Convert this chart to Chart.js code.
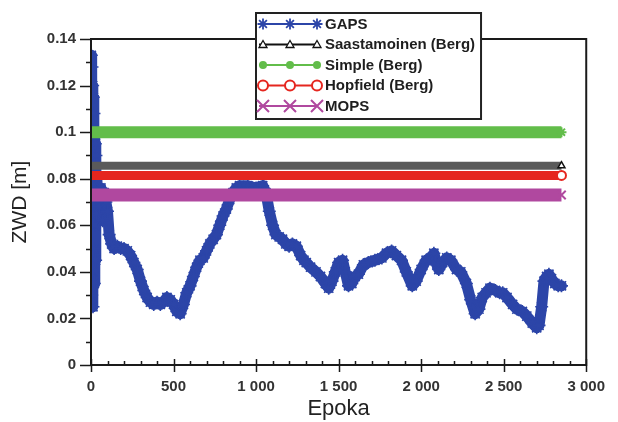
<!DOCTYPE html>
<html>
<head>
<meta charset="utf-8">
<script src="https://cdn.jsdelivr.net/npm/chart.js@4/dist/chart.umd.min.js"></script>
<style>
  body { margin: 0; background: #fff; }
  canvas { display: block; }
</style>
</head>
<body>
<canvas id="zwd-chart" width="618" height="422"></canvas>
<script>
// series labels (legend order)
var seriesNames = ["GAPS", "Saastamoinen (Berg)", "Simple (Berg)", "Hopfield (Berg)", "MOPS"];

// GAPS estimate (epoch, ZWD in m)
var gapsEpoch = [0, 2, 4, 6, 8, 10, 12, 14, 16, 18, 20, 22, 24, 26, 28, 30, 32, 35,
  40, 50, 60, 70, 80, 90, 100, 110, 125, 140, 160, 180, 200, 220, 240, 260, 280, 300,
  320, 340, 360, 380, 400, 420, 440, 460, 480, 500, 520, 540, 560, 580, 600, 620, 640,
  660, 680, 700, 720, 740, 760, 780, 800, 820, 840, 860, 880, 900, 950, 1000, 1040,
  1060, 1080, 1100, 1120, 1140, 1160, 1180, 1200, 1220, 1244, 1270, 1290, 1304, 1330,
  1363, 1390, 1420, 1440, 1460, 1480, 1500, 1524, 1540, 1560, 1580, 1600, 1620, 1650,
  1680, 1720, 1762, 1790, 1821, 1850, 1881, 1910, 1946, 1970, 2000, 2030, 2060, 2077,
  2095, 2107, 2130, 2155, 2180, 2214, 2240, 2274, 2300, 2327, 2350, 2370, 2393, 2417,
  2450, 2476, 2494, 2520, 2554, 2580, 2613, 2640, 2673, 2700, 2714, 2730, 2744, 2760,
  2774, 2790, 2810, 2830, 2850];
var gapsZwd = [0.027, 0.133, 0.030, 0.128, 0.040, 0.120, 0.025, 0.115, 0.050, 0.108,
  0.035, 0.100, 0.060, 0.095, 0.045, 0.090, 0.065, 0.080,
  0.075, 0.068, 0.076, 0.062, 0.074, 0.070, 0.066, 0.056, 0.052, 0.050, 0.051, 0.050,
  0.050, 0.049, 0.047, 0.044, 0.041, 0.036, 0.032, 0.029, 0.027, 0.026, 0.027, 0.026,
  0.027, 0.029, 0.028, 0.026, 0.023, 0.022, 0.026, 0.031, 0.034, 0.038, 0.042, 0.045,
  0.046, 0.049, 0.052, 0.054, 0.056, 0.060, 0.064, 0.067, 0.071, 0.074, 0.076, 0.077,
  0.077, 0.076, 0.077, 0.074, 0.066, 0.060, 0.056, 0.055, 0.054, 0.052, 0.051, 0.052,
  0.051, 0.047, 0.045, 0.044, 0.042, 0.040, 0.038, 0.035, 0.033, 0.036, 0.040, 0.044,
  0.045, 0.040, 0.034, 0.035, 0.038, 0.039, 0.043, 0.044, 0.045, 0.046, 0.048, 0.049,
  0.047, 0.045, 0.040, 0.034, 0.036, 0.041, 0.045, 0.046, 0.048, 0.043, 0.041, 0.044,
  0.046, 0.045, 0.041, 0.040, 0.035, 0.028, 0.022, 0.024, 0.029, 0.031, 0.033, 0.032,
  0.031, 0.031, 0.029, 0.026, 0.024, 0.023, 0.021, 0.018, 0.016, 0.017, 0.025, 0.036,
  0.038, 0.039, 0.037, 0.035, 0.034, 0.034];

// model values (constant over the session)
var lineEpochs = [0, 2850];
var saastamoinenZwd = [0.0856, 0.0856];
var simpleZwd = [0.1000, 0.1000];
var hopfieldZwd = [0.0814, 0.0814];
var mopsZwd = [0.0730, 0.0730];

var xTickLabels = ["0", "500", "1 000", "1 500", "2 000", "2 500", "3 000"];
var yTickLabels = ["0", "0.02", "0.04", "0.06", "0.08", "0.1", "0.12", "0.14"];

function pairs(xs, ys) {
  return xs.map(function(x, i) { return { x: x, y: ys[i] }; });
}

var blue = "#2c45a8", grey = "#5a5a5a", green = "#62bd4a", red = "#e5261f", purple = "#b0489f";
var fontFamily = "'Liberation Sans', Arial, sans-serif";

// marker drawing for the legend
function drawMarker(ctx, style, x, y, color) {
  ctx.save();
  ctx.strokeStyle = color;
  ctx.fillStyle = color;
  ctx.lineWidth = 1.8;
  ctx.beginPath();
  if (style === "star") {
    for (var a = 0; a < 4; a++) {
      var ang = a * Math.PI / 4;
      ctx.moveTo(x - 5.5 * Math.cos(ang), y - 5.5 * Math.sin(ang));
      ctx.lineTo(x + 5.5 * Math.cos(ang), y + 5.5 * Math.sin(ang));
    }
    ctx.stroke();
  } else if (style === "triangle") {
    ctx.moveTo(x, y - 4);
    ctx.lineTo(x + 4, y + 3);
    ctx.lineTo(x - 4, y + 3);
    ctx.closePath();
    ctx.fillStyle = "#fff";
    ctx.fill();
    ctx.lineWidth = 1.3;
    ctx.stroke();
  } else if (style === "dot") {
    ctx.arc(x, y, 4, 0, Math.PI * 2);
    ctx.fill();
  } else if (style === "circle") {
    ctx.arc(x, y, 5, 0, Math.PI * 2);
    ctx.fillStyle = "#fff";
    ctx.fill();
    ctx.lineWidth = 2;
    ctx.stroke();
  } else if (style === "cross") {
    ctx.moveTo(x - 6, y - 6); ctx.lineTo(x + 6, y + 6);
    ctx.moveTo(x + 6, y - 6); ctx.lineTo(x - 6, y + 6);
    ctx.lineWidth = 2;
    ctx.stroke();
  }
  ctx.restore();
}

var legendItems = [
  { color: blue, marker: "star" },
  { color: "#111", marker: "triangle" },
  { color: green, marker: "dot" },
  { color: red, marker: "circle" },
  { color: purple, marker: "cross" }
];

var framePlugin = {
  id: "frame",
  afterDatasetsDraw: function(chart) {
    var ctx = chart.ctx, a = chart.chartArea;
    var xs = chart.scales.x, ys = chart.scales.y;
    ctx.save();
    ctx.strokeStyle = "#1a1a1a";
    ctx.lineWidth = 2;
    ctx.strokeRect(a.left, a.top, a.right - a.left, a.bottom - a.top);
    ctx.lineWidth = 1.5;
    ctx.beginPath();
    for (var v = 0; v <= 3000; v += 100) {
      var px = Math.round(xs.getPixelForValue(v)) + 0.5;
      if (v % 500 === 0) {
        ctx.moveTo(px, a.bottom - 6); ctx.lineTo(px, a.bottom + 7);
      } else {
        ctx.moveTo(px, a.bottom - 4); ctx.lineTo(px, a.bottom);
      }
    }
    for (var k = 0; k <= 14; k++) {
      var py = Math.round(ys.getPixelForValue(k / 100)) + 0.5;
      if (k % 2 === 0) {
        ctx.moveTo(a.left - 11, py); ctx.lineTo(a.left, py);
      } else {
        ctx.moveTo(a.left - 5, py); ctx.lineTo(a.left, py);
      }
    }
    ctx.stroke();
    ctx.restore();
  },
  afterDraw: function(chart) {
    var ctx = chart.ctx;
    ctx.save();
    ctx.font = "bold 15px " + fontFamily;
    var textX = 325, maxW = 0;
    seriesNames.forEach(function(n) { maxW = Math.max(maxW, ctx.measureText(n).width); });
    var left = 256, top = 13, bottom = 119, right = textX + maxW + 6;
    ctx.fillStyle = "#fff";
    ctx.fillRect(left, top, right - left, bottom - top);
    ctx.strokeStyle = "#222";
    ctx.lineWidth = 2;
    ctx.strokeRect(left, top, right - left, bottom - top);
    var rowY = [24, 44.5, 65, 85.5, 106];
    legendItems.forEach(function(item, i) {
      var y = rowY[i];
      ctx.strokeStyle = item.color;
      ctx.lineWidth = 1.8;
      ctx.beginPath();
      ctx.moveTo(259, y); ctx.lineTo(318, y);
      ctx.stroke();
      [263, 290, 317].forEach(function(mx) { drawMarker(ctx, item.marker, mx, y, item.color); });
      ctx.fillStyle = "#1e1e1e";
      ctx.textBaseline = "middle";
      ctx.fillText(seriesNames[i], textX, y + 0.5);
    });
    ctx.restore();
  }
};

var tickFont = { family: fontFamily, size: 15, weight: "bold" };

new Chart(document.getElementById("zwd-chart").getContext("2d"), {
  type: "line",
  data: {
    datasets: [
      {
        label: seriesNames[0], data: pairs(gapsEpoch, gapsZwd), order: 9,
        borderColor: blue, borderWidth: 11, borderJoinStyle: "round", borderCapStyle: "round",
        pointStyle: "star", pointRadius: 6.5, pointBorderWidth: 1.6,
        pointBorderColor: blue, pointBackgroundColor: blue
      },
      {
        label: seriesNames[1], data: pairs(lineEpochs, saastamoinenZwd), order: 2,
        borderColor: grey, borderWidth: 8,
        pointStyle: "triangle", pointRadius: [0, 4], pointBorderColor: "#111",
        pointBackgroundColor: "#fff", pointBorderWidth: 1.5
      },
      {
        label: seriesNames[2], data: pairs(lineEpochs, simpleZwd), order: 4,
        borderColor: green, borderWidth: 12,
        pointStyle: "star", pointRadius: [0, 5], pointBorderColor: green, pointBorderWidth: 2
      },
      {
        label: seriesNames[3], data: pairs(lineEpochs, hopfieldZwd), order: 3,
        borderColor: red, borderWidth: 9,
        pointStyle: "circle", pointRadius: [0, 4.5], pointBorderColor: red,
        pointBackgroundColor: "#fff", pointBorderWidth: 2
      },
      {
        label: seriesNames[4], data: pairs(lineEpochs, mopsZwd), order: 1,
        borderColor: purple, borderWidth: 13,
        pointStyle: "crossRot", pointRadius: [0, 6], pointBorderColor: purple, pointBorderWidth: 2
      }
    ]
  },
  options: {
    responsive: false,
    animation: false,
    devicePixelRatio: 1,
    layout: { padding: { left: 0, top: 39, right: 23, bottom: 0 } },
    plugins: { legend: { display: false }, tooltip: { enabled: false } },
    scales: {
      x: {
        type: "linear", min: 0, max: 3000,
        grid: { display: false, drawTicks: false },
        border: { display: false },
        ticks: {
          stepSize: 500, padding: 13, color: "#333", font: tickFont, maxRotation: 0,
          callback: function(v, i) { return xTickLabels[i]; }
        },
        title: { display: true, text: "Epoka", color: "#222", padding: { top: 1, bottom: 0 },
          font: { family: fontFamily, size: 22 } },
        afterFit: function(s) { s.height = 57; }
      },
      y: {
        type: "linear", min: 0, max: 0.14,
        grid: { display: false, drawTicks: false },
        border: { display: false },
        ticks: {
          stepSize: 0.02, padding: 15, color: "#333", font: tickFont,
          callback: function(v, i) { return yTickLabels[i]; }
        },
        title: { display: true, text: "ZWD [m]", color: "#222", padding: { top: 8, bottom: 0 },
          font: { family: fontFamily, size: 21 } },
        afterFit: function(s) { s.width = 91; }
      }
    }
  },
  plugins: [framePlugin]
});
</script>
</body>
</html>
